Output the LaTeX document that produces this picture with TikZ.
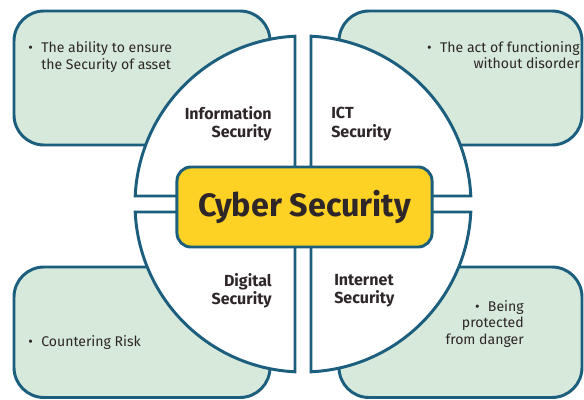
\documentclass[tikz,border=0pt]{standalone}
\usepackage{fontspec}
\setmainfont{Fira Sans}
\usetikzlibrary{calc}
\definecolor{darkteal}{RGB}{27,94,126}
\definecolor{lightgreen}{RGB}{214,233,218}
\definecolor{darkyellow}{RGB}{253,210,36}
\definecolor{darkbrown}{RGB}{46,38,40}

\begin{document}
\begin{tikzpicture}[x=0.025cm, y=0.025cm,
    infobox/.style={draw=darkteal, fill=lightgreen, line width=2.1pt, rounded corners=0.75cm},
    quarter/.style={draw=darkteal, fill=white, line width=2.1pt},
    qtext/.style={text=darkbrown, inner sep=0pt, font=\fontsize{11.4}{13}\selectfont\bfseries},
    btext/.style={text=darkbrown, inner sep=0pt, font=\fontsize{10}{11.9}\selectfont}]
    \useasboundingbox (0,0) rectangle (584,400);
    \coordinate (c) at (303,196);

    % Outer boxes
    \draw[infobox] (14,255) rectangle (270,389);
    \draw[infobox] (339,255) rectangle (582,389);
    \draw[infobox] (14,2.5) rectangle (270,133);
    \draw[infobox] (339,2.5) rectangle (582,133);

    % Quarters of the circle
    \draw[quarter] ($(c)+(-8,8)$) -- ($(c)+(92.73:168)$) arc[start angle=92.73, end angle=177.27, radius=168] -- cycle;
    \draw[quarter] ($(c)+(8,8)$) -- ($(c)+(2.73:168)$) arc[start angle=2.73, end angle=87.27, radius=168] -- cycle;
    \draw[quarter] ($(c)+(-8,-8)$) -- ($(c)+(182.73:168)$) arc[start angle=182.73, end angle=267.27, radius=168] -- cycle;
    \draw[quarter] ($(c)+(8,-8)$) -- ($(c)+(272.73:168)$) arc[start angle=272.73, end angle=357.27, radius=168] -- cycle;

    % Centre
    \node[draw=darkteal, fill=darkyellow, line width=2.1pt, rounded corners=0.35cm,
          minimum width=6.375cm, minimum height=2cm, text=darkbrown,
          font=\fontsize{23}{27}\selectfont\bfseries] (cyber) at (304.5,193) {Cyber Security};

    % Quarter labels
    \node[qtext, anchor=east, align=right] (info) at (272,276) {Information\\Security};
    \node[qtext, anchor=west, align=left] (ict) at (331,276) {ICT\\Security};
    \node[qtext, anchor=east, align=right] (digital) at (272,109) {Digital\\Security};
    \node[qtext, anchor=west, align=left] (internet) at (334,109) {Internet\\Security};

    % Box texts
    \node[btext, anchor=north west] (ensure) at (28,359)
        {\begin{tabular}{@{}l@{\hspace{6pt}}l@{}}\textbullet & The ability to ensure\\ & the Security of asset\end{tabular}};
    \node[btext, anchor=north east, align=right] (order) at (580,359)
        {\textbullet\hspace{6pt}The act of functioning\\without disorder};
    \node[btext, anchor=west] (risk) at (28,57) {\textbullet\hspace{6pt}Countering Risk};
    \node[btext, anchor=east, align=right] (danger) at (524,76)
        {\textbullet\hspace{6pt}Being\\protected\\from danger};
\end{tikzpicture}
\end{document}
